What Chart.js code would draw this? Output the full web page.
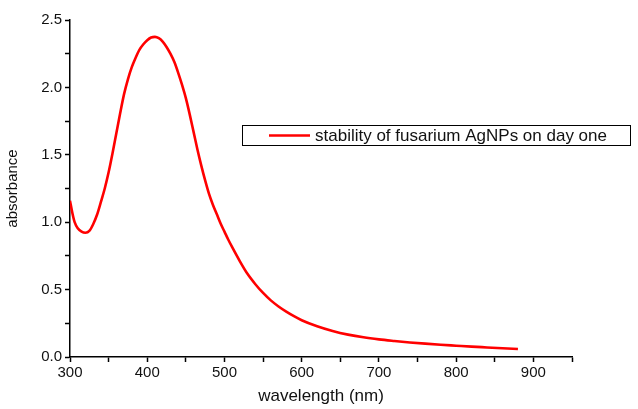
<!DOCTYPE html>
<html>
<head>
<meta charset="utf-8">
<script src="https://cdn.jsdelivr.net/npm/chart.js@4.4.0/dist/chart.umd.min.js"></script>
<style>
  html, body { margin: 0; padding: 0; background: #fff; }
  #wrap { width: 638px; height: 409px; }
</style>
</head>
<body>
<div id="wrap"><canvas id="grafico" width="638" height="409"></canvas></div>
<script>
const wavelength = [300, 303, 306, 310, 315, 320, 325, 330, 335, 340, 345, 350, 355, 360, 365, 370, 375, 380, 385, 390, 395,
  400, 405, 410, 415, 420, 425, 430, 435, 440, 445, 450, 455, 460, 465, 470, 475, 480, 485, 490, 495,
  500, 505, 510, 520, 530, 540, 550, 560, 570, 580, 590, 600, 620, 640, 660, 680, 700, 720, 740, 760, 780,
  800, 820, 840, 860, 880];
const absorbance = [1.16, 1.07, 1.0, 0.955, 0.93, 0.922, 0.935, 0.985, 1.055, 1.15, 1.25, 1.37, 1.51, 1.66, 1.81, 1.95, 2.06, 2.15, 2.22, 2.28, 2.32,
  2.35, 2.37, 2.375, 2.365, 2.34, 2.30, 2.25, 2.19, 2.11, 2.02, 1.92, 1.80, 1.67, 1.54, 1.42, 1.31, 1.21, 1.13, 1.06, 0.99,
  0.93, 0.87, 0.815, 0.71, 0.615, 0.54, 0.475, 0.42, 0.375, 0.337, 0.303, 0.273, 0.228, 0.193, 0.166, 0.146, 0.131, 0.119, 0.108, 0.099, 0.091,
  0.084, 0.077, 0.071, 0.065, 0.059];
const serieLabel = "stability of fusarium AgNPs on day one";
const xTitle = "wavelength (nm)";
const yTitle = "absorbance";

const fonte = "'Liberation Sans', Arial, sans-serif";

// legenda desenhada dentro da area do grafico
const legendaBox = {
  id: "legendaBox",
  afterDraw(chart) {
    const ctx = chart.ctx;
    const ds = chart.data.datasets[0];
    const x0 = 242, y0 = 125, w = 388, h = 20;
    ctx.save();
    ctx.fillStyle = "#fff";
    ctx.fillRect(x0, y0, w, h);
    ctx.strokeStyle = "#000";
    ctx.lineWidth = 1;
    ctx.strokeRect(x0 + 0.5, y0 + 0.5, w, h);
    ctx.strokeStyle = ds.borderColor;
    ctx.lineWidth = 2.5;
    ctx.beginPath();
    ctx.moveTo(269, y0 + h / 2 + 0.5);
    ctx.lineTo(310, y0 + h / 2 + 0.5);
    ctx.stroke();
    ctx.fillStyle = "#111";
    ctx.font = "17px " + fonte;
    ctx.textBaseline = "middle";
    ctx.fillText(ds.label, 315, y0 + h / 2 + 1);
    ctx.restore();
  }
};

const ctx = document.getElementById("grafico").getContext("2d");
const chart = new Chart(ctx, {
  type: "scatter",
  data: {
    datasets: [{
      label: serieLabel,
      data: wavelength.map((w, i) => ({ x: w, y: absorbance[i] })),
      showLine: true,
      borderColor: "#ff0000",
      borderWidth: 2.6,
      pointRadius: 0,
      cubicInterpolationMode: "monotone",
      fill: false
    }]
  },
  options: {
    responsive: false,
    animation: false,
    layout: { padding: { left: 4, right: 66, top: 20, bottom: 2 } },
    plugins: {
      legend: { display: false },
      tooltip: { enabled: false }
    },
    scales: {
      x: {
        type: "linear",
        min: 300,
        max: 950,
        afterFit(scale) { scale.height = 50; },
        border: { display: true, color: "#000", width: 1.5 },
        grid: { display: true, drawOnChartArea: false, drawTicks: true, tickLength: 5, tickColor: "#000", tickWidth: 1.5 },
        ticks: {
          stepSize: 50,
          padding: 2,
          color: "#111",
          font: { family: fonte, size: 15 },
          maxRotation: 0,
          autoSkip: false,
          callback: v => (v % 100 === 0 ? String(v) : "")
        },
        title: { display: true, text: xTitle, color: "#111", font: { family: fonte, size: 17 }, padding: { top: 4, bottom: 0 } }
      },
      y: {
        min: 0,
        max: 2.5,
        afterFit(scale) { scale.width = 66; },
        border: { display: true, color: "#000", width: 1.5 },
        grid: { display: true, drawOnChartArea: false, drawTicks: true, tickLength: 5, tickColor: "#000", tickWidth: 1.5 },
        ticks: {
          stepSize: 0.25,
          padding: 3,
          color: "#111",
          font: { family: fonte, size: 15 },
          autoSkip: false,
          callback: v => (Math.abs(v * 2 - Math.round(v * 2)) < 1e-6 ? v.toFixed(1) : "")
        },
        title: { display: true, text: yTitle, color: "#111", font: { family: fonte, size: 15 }, padding: { top: 0, bottom: 4 } }
      }
    }
  },
  plugins: [legendaBox]
});
</script>
</body>
</html>
